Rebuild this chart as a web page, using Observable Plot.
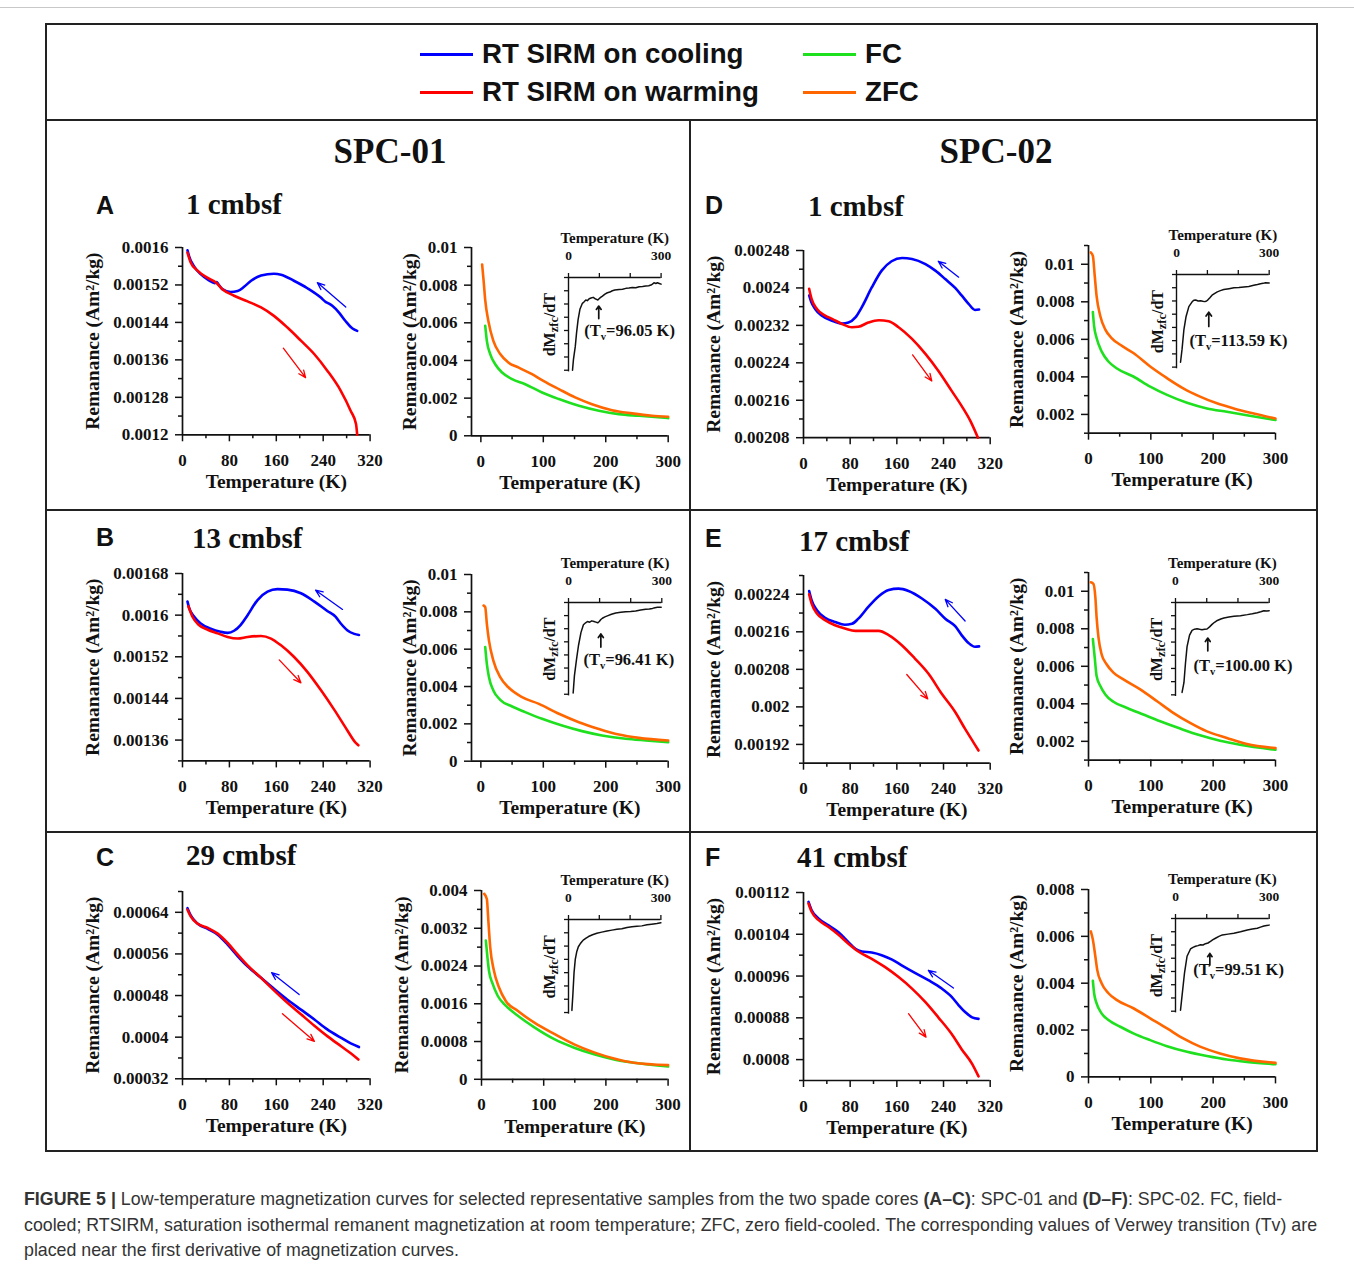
<!DOCTYPE html>
<html><head><meta charset="utf-8">
<script src="https://cdn.jsdelivr.net/npm/d3@7"></script>
<script src="https://cdn.jsdelivr.net/npm/@observablehq/plot@0.6"></script>
<style>
body{margin:0;background:#fff;}
#root{position:relative;width:1354px;height:1267px;overflow:hidden;background:#fff;}
.abs{position:absolute;}
svg{max-width:none !important;}
</style></head><body><div id="root"></div>
<script>
// ---------------- DATA ----------------
const legendItems = ["RT SIRM on cooling", "RT SIRM on warming", "FC", "ZFC"];
const coreNames = ["SPC-01", "SPC-02"];
const panelLetters = ["A", "B", "C", "D", "E", "F"];
const depthLabels = ["1 cmbsf", "13 cmbsf", "29 cmbsf", "1 cmbsf", "17 cmbsf", "41 cmbsf"];

const sirmXTicks = [0, 80, 160, 240, 320];
const sirmXMinor = [40, 120, 200, 280];
const zfcXTicks = [0, 100, 200, 300];
const zfcXMinor = [50, 150, 250];
const insetXTicks = [0, 300];
const insetXMinor = [100, 200];
const insetYTicks = [0, 1, 2, 3, 4, 5, 6, 7];

// Panel A
const yTicksA = [0.0012, 0.00128, 0.00136, 0.00144, 0.00152, 0.0016];
const yMinorA = [0.00124, 0.00132, 0.0014, 0.00148, 0.00156];
const coolA = [[8.5,0.001594],[11,0.001582],[20,0.001559],[31,0.001543],[45,0.00153],[55,0.001524],[58,0.001526],[62,0.00152],[68,0.001511],[82,0.001505],[94,0.001507],[105,0.001516],[117,0.001529],[134,0.00154],[156,0.001544],[168,0.001542],[190,0.001529],[213,0.001513],[236,0.001493],[244,0.001484],[250,0.00148],[256,0.001475],[267,0.001461],[278,0.001443],[290,0.001427],[298,0.001422]];
const warmA = [[8.5,0.001589],[14,0.001568],[26,0.00155],[43,0.001535],[57,0.001525],[68,0.001511],[88,0.001497],[111,0.001485],[134,0.001472],[156,0.001454],[179,0.001429],[202,0.001401],[225,0.001372],[247,0.001337],[270,0.001294],[287,0.001251],[296,0.001223],[298,0.0012]];
const arrowCoolA = [278.5,0.001473,230,0.001525];
const arrowWarmA = [172,0.001385,210,0.001322];
const zfcYTicksA = [0, 0.002, 0.004, 0.006, 0.008, 0.01];
const zfcYMinorA = [0.001, 0.003, 0.005, 0.007, 0.009];
const zfcA = [[2,0.0091],[4.5,0.0082],[7,0.0072],[12,0.0061],[20,0.00504],[31,0.00434],[44,0.00389],[60,0.00363],[82,0.00327],[100,0.00292],[125,0.00248],[151,0.00204],[178,0.00168],[210,0.00136],[242,0.00119],[274,0.00106],[300,0.00101]];
const fcA = [[7,0.00584],[9.6,0.00504],[15,0.00434],[23,0.0038],[34,0.00336],[50,0.00301],[71,0.00274],[98,0.0023],[125,0.00195],[157,0.00159],[189,0.00133],[221,0.00115],[253,0.00106],[300,0.00094]];
const insetA = [[13,0],[16,0.8],[22,1.8],[26,2.8],[31,3.8],[37,4.6],[45,5.05],[50,5.15],[56,5.3],[61,5.25],[67,5.4],[73,5.45],[80,5.5],[86,5.4],[91,5.35],[95,5.3],[99,5.4],[104,5.5],[110,5.6],[118,5.75],[126,5.85],[134,5.9],[142,6.0],[150,6.05],[164,6.1],[175,6.12],[186,6.18],[196,6.2],[207,6.25],[218,6.22],[229,6.3],[240,6.32],[250,6.35],[260,6.38],[267,6.43],[272,6.5],[277,6.6],[283,6.55],[288,6.6],[294,6.55],[300,6.5]];
const tvA = {x: 98, y1: 3.9, y2: 4.85, lx: 198, ly: 3.0, label: "(Tv=96.05 K)"};

// Panel B
const yTicksB = [0.00136, 0.00144, 0.00152, 0.0016, 0.00168];
const yMinorB = [0.00132, 0.0014, 0.00148, 0.00156, 0.00164];
const coolB = [[8.5,0.001626],[11,0.001615],[20,0.001597],[31,0.001584],[48,0.001574],[65,0.001568],[77,0.001566],[88,0.00157],[99,0.001581],[111,0.0016],[128,0.001629],[145,0.001645],[162,0.00165],[179,0.001649],[202,0.001642],[225,0.001626],[247,0.001608],[261,0.001597],[270,0.001584],[281,0.001571],[293,0.001564],[301,0.001562]];
const warmB = [[10,0.001617],[17,0.001597],[28,0.001581],[43,0.001572],[60,0.001565],[77,0.001558],[94,0.001555],[111,0.001558],[134,0.00156],[151,0.001555],[168,0.001542],[190,0.00152],[213,0.001491],[236,0.001456],[259,0.001418],[281,0.001379],[296,0.001354],[300,0.00135]];
const arrowCoolB = [273,0.001611,227,0.001648];
const arrowWarmB = [165,0.001514,202,0.00147];
const zfcYTicksB = [0, 0.002, 0.004, 0.006, 0.008, 0.01];
const zfcYMinorB = [0.001, 0.003, 0.005, 0.007, 0.009];
const zfcB = [[4.3,0.00834],[7,0.00825],[9.6,0.00736],[13,0.00646],[20,0.00539],[31,0.0045],[44,0.00396],[66,0.00343],[93,0.00307],[125,0.00254],[157,0.00209],[189,0.00173],[221,0.00143],[253,0.00125],[300,0.00111]];
const fcB = [[7,0.00611],[9.6,0.00521],[13,0.0045],[20,0.00379],[31,0.00329],[50,0.00293],[71,0.00263],[98,0.00227],[130,0.00191],[162,0.00161],[194,0.00138],[232,0.0012],[264,0.00111],[300,0.00102]];
const insetB = [[15,0.1],[19,1.4],[26,2.7],[32,3.7],[40,4.7],[48,5.3],[55,5.45],[61,5.55],[68,5.5],[75,5.6],[82,5.55],[88,5.5],[94,5.45],[99,5.55],[104,5.7],[109,5.8],[117,5.9],[125,5.98],[138,6.1],[152,6.2],[168,6.25],[184,6.3],[200,6.32],[216,6.35],[232,6.42],[248,6.48],[260,6.5],[270,6.55],[278,6.6],[286,6.63],[298,6.63]];
const tvB = {x: 104, y1: 3.6, y2: 4.6, lx: 194, ly: 2.6, label: "(Tv=96.41 K)"};

// Panel C
const yTicksC = [0.00032, 0.0004, 0.00048, 0.00056, 0.00064];
const yMinorC = [0.00036, 0.00044, 0.00052, 0.0006, 0.00068];
const coolC = [[8.5,0.000648],[14,0.000634],[26,0.000618],[43,0.000608],[60,0.000597],[77,0.000578],[94,0.000556],[111,0.000536],[134,0.000514],[156,0.000493],[179,0.000472],[202,0.000453],[225,0.000434],[247,0.000415],[270,0.000399],[287,0.000388],[301,0.000381]];
const warmC = [[8.5,0.000645],[14,0.000632],[26,0.000618],[43,0.00061],[60,0.000599],[77,0.000581],[94,0.000559],[111,0.000538],[134,0.000514],[156,0.00049],[179,0.000466],[202,0.000444],[225,0.000422],[247,0.000402],[270,0.000383],[287,0.000369],[300,0.000357]];
const arrowCoolC = [199,0.000482,152,0.000524];
const arrowWarmC = [170.5,0.000445,225,0.000392];
const zfcYTicksC = [0, 0.0008, 0.0016, 0.0024, 0.0032, 0.004];
const zfcYMinorC = [0.0004, 0.0012, 0.002, 0.0028, 0.0036];
const zfcC = [[4.3,0.00393],[8.6,0.00382],[11,0.00336],[14,0.0028],[20,0.0023],[28,0.00195],[39,0.00166],[58,0.00145],[85,0.0012],[117,0.00096],[149,0.00074],[181,0.00057],[213,0.00044],[245,0.00035],[300,0.0003]];
const fcC = [[7,0.00294],[9.6,0.00258],[12,0.0023],[18,0.00202],[26,0.00177],[39,0.00156],[58,0.00135],[85,0.0011],[117,0.00085],[149,0.00067],[181,0.00053],[213,0.00042],[245,0.00035],[300,0.00027]];
const insetC = [[11,0.16],[14,1.27],[18,3.0],[22,4.0],[27,4.6],[32,4.95],[38,5.17],[44,5.35],[49,5.47],[57,5.6],[65,5.72],[78,5.85],[92,5.96],[108,6.05],[125,6.14],[141,6.2],[157,6.26],[173,6.3],[190,6.4],[206,6.45],[222,6.5],[238,6.52],[255,6.6],[270,6.65],[287,6.7],[300,6.75]];

// Panel D
const yTicksD = [0.00208, 0.00216, 0.00224, 0.00232, 0.0024, 0.00248];
const yMinorD = [0.00212, 0.0022, 0.00228, 0.00236, 0.00244];
const coolD = [[9.7,0.002384],[13,0.002371],[20,0.002355],[31,0.002341],[49,0.00233],[66,0.002324],[77,0.002326],[89,0.002337],[100,0.002359],[117,0.002401],[134,0.002437],[151,0.002457],[169,0.002464],[186,0.002462],[209,0.002451],[226,0.002437],[243,0.002419],[260,0.0024],[271,0.002384],[283,0.002366],[294,0.002353],[301,0.002354]];
const warmD = [[9.7,0.002398],[14,0.002376],[23,0.002355],[37,0.002341],[49,0.002334],[66,0.002323],[83,0.002316],[94,0.002317],[111,0.002326],[129,0.002331],[146,0.002329],[163,0.002316],[186,0.002291],[209,0.002259],[231,0.002223],[254,0.00218],[271,0.002148],[286,0.002116],[299,0.00208]];
const arrowCoolD = [266,0.002423,231,0.002457];
const arrowWarmD = [187,0.002257,220,0.002201];
const zfcYTicksD = [0.002, 0.004, 0.006, 0.008, 0.01];
const zfcYMinorD = [0.001, 0.003, 0.005, 0.007, 0.009, 0.011];
const zfcD = [[3.7,0.01063],[7,0.01045],[10,0.00938],[13,0.0083],[19,0.00723],[27,0.00652],[37,0.00607],[51,0.00571],[72,0.00527],[99,0.00455],[126,0.00393],[152,0.00339],[179,0.00295],[206,0.00259],[233,0.00232],[265,0.00205],[300,0.00178]];
const fcD = [[7,0.00745],[9,0.0067],[13,0.00607],[21,0.00536],[32,0.00482],[45,0.00446],[72,0.00402],[99,0.00348],[126,0.00304],[158,0.00262],[190,0.00232],[222,0.00214],[254,0.00196],[300,0.0017]];
const insetD = [[13,0.37],[18,1.36],[24,2.84],[31,3.83],[40,4.57],[51,4.95],[56,5.05],[62,5.07],[70,5.0],[78,5.02],[85,4.98],[91,4.95],[96,4.98],[101,5.07],[108,5.25],[115,5.44],[124,5.58],[132,5.69],[142,5.78],[153,5.86],[170,5.93],[186,5.99],[202,6.02],[218,6.06],[234,6.1],[250,6.18],[262,6.24],[272,6.3],[280,6.33],[288,6.38],[300,6.36]];
const tvD = {x: 104.5, y1: 3.07, y2: 4.15, lx: 200.6, ly: 1.96, label: "(Tv=113.59 K)"};

// Panel E
const yTicksE = [0.00192, 0.002, 0.00208, 0.00216, 0.00224];
const yMinorE = [0.00188, 0.00196, 0.00204, 0.00212, 0.0022, 0.00228];
const coolE = [[9.7,0.002247],[14,0.002227],[23,0.002206],[37,0.00219],[54,0.002181],[71,0.002175],[83,0.002177],[94,0.002188],[111,0.002213],[129,0.002236],[146,0.002249],[163,0.002252],[180,0.002247],[203,0.002231],[226,0.002209],[243,0.002188],[260,0.002172],[271,0.002153],[283,0.002136],[294,0.002128],[301,0.002129]];
const warmE = [[9.7,0.00224],[14,0.00222],[23,0.002199],[37,0.002185],[54,0.002174],[71,0.002167],[89,0.002162],[111,0.002162],[129,0.002162],[146,0.002153],[169,0.002131],[191,0.002103],[214,0.002071],[237,0.002028],[260,0.001989],[277,0.001953],[291,0.001925],[300,0.001907]];
const arrowCoolE = [277,0.002183,243,0.002229];
const arrowWarmE = [177,0.002069,213,0.002017];
const zfcYTicksE = [0.002, 0.004, 0.006, 0.008, 0.01];
const zfcYMinorE = [0.001, 0.003, 0.005, 0.007, 0.009, 0.011];
const zfcE = [[3.7,0.01048],[8,0.01039],[11,0.00968],[13,0.00861],[16,0.00754],[21,0.00664],[29,0.00611],[40,0.00566],[56,0.0053],[83,0.00477],[110,0.00414],[136,0.00352],[163,0.00298],[190,0.00253],[222,0.00218],[254,0.00186],[300,0.00164]];
const fcE = [[7,0.00745],[10,0.00646],[13,0.00548],[19,0.00495],[27,0.0045],[40,0.00411],[62,0.00378],[88,0.00343],[115,0.00307],[147,0.00268],[179,0.00232],[211,0.00203],[243,0.00182],[300,0.00155]];
const insetE = [[21,0.18],[27,0.92],[32,2.41],[37,3.65],[45,4.52],[53,4.89],[61,4.98],[69,5.01],[77,4.97],[85,4.94],[93,4.98],[101,4.99],[109,5.15],[117,5.34],[125,5.5],[134,5.64],[145,5.75],[155,5.83],[171,5.9],[187,5.96],[208,6.0],[230,6.08],[246,6.15],[262,6.23],[273,6.3],[283,6.38],[292,6.36],[300,6.38]];
const tvE = {x: 103.4, y1: 3.34, y2: 4.3, lx: 216, ly: 2.2, label: "(Tv=100.00 K)"};

// Panel F
const yTicksF = [0.0008, 0.00088, 0.00096, 0.00104, 0.00112];
const yMinorF = [0.00076, 0.00084, 0.00092, 0.001, 0.00108];
const coolF = [[8.6,0.001102],[14,0.001086],[26,0.00107],[43,0.001057],[60,0.001044],[77,0.001025],[89,0.001012],[100,0.001007],[117,0.001005],[134,0.001],[151,0.000992],[169,0.00098],[191,0.000966],[214,0.000952],[237,0.000936],[254,0.00092],[266,0.000904],[277,0.000891],[289,0.000881],[300,0.000878]];
const warmF = [[8.6,0.001099],[14,0.001083],[26,0.001067],[43,0.001054],[60,0.001039],[77,0.001022],[94,0.001007],[117,0.000993],[140,0.000977],[163,0.000958],[186,0.000936],[209,0.00091],[231,0.000881],[254,0.000849],[271,0.00082],[289,0.000792],[300,0.000768]];
const arrowCoolF = [257,0.000937,214,0.000971];
const arrowWarmF = [180,0.000888,210,0.000843];
const zfcYTicksF = [0, 0.002, 0.004, 0.006, 0.008];
const zfcYMinorF = [0.001, 0.003, 0.005, 0.007];
const zfcF = [[3.7,0.00621],[7,0.00586],[11,0.00514],[14,0.00457],[21,0.004],[32,0.00357],[45,0.00329],[72,0.00293],[99,0.0025],[126,0.00207],[152,0.00164],[179,0.00129],[211,0.001],[243,0.00079],[300,0.0006]];
const fcF = [[7,0.0041],[9,0.00357],[13,0.00314],[21,0.00271],[32,0.00243],[51,0.00214],[72,0.00186],[99,0.00157],[126,0.00131],[158,0.00107],[190,0.00089],[222,0.00074],[254,0.00064],[300,0.00054]];
const insetF = [[16,0.07],[21,1.18],[29,2.92],[37,4.15],[48,4.7],[56,4.82],[64,4.9],[72,4.95],[80,5.02],[88,5.0],[96,5.1],[104,5.15],[112,5.27],[120,5.4],[128,5.51],[139,5.65],[150,5.76],[168,5.82],[187,5.89],[208,6.0],[230,6.13],[246,6.2],[262,6.26],[272,6.35],[283,6.43],[292,6.47],[300,6.5]];
const tvF = {x: 110, y1: 3.48, y2: 4.36, lx: 202, ly: 3.1, label: "(Tv=99.51 K)"};

// ---------------- STYLE / LAYOUT ----------------
const FONT = '"Liberation Serif","Times New Roman",serif';
const SANS = '"Liberation Sans",Arial,sans-serif';
const INK = "#111";
const BLUE = "#0000ff", RED = "#ff0000", GREEN = "#1fe01f", ORANGE = "#ff6600";
const fmt = d3.format("~g");
const root = document.getElementById("root");

const panels = [
  {key:"A", cool:coolA, warm:warmA, ac:arrowCoolA, aw:arrowWarmA, yDom:[0.0012,0.0016], yT:yTicksA, yM:yMinorA,
   zfc:zfcA, fc:fcA, zxDom:[-15,300], zyDom:[0,0.01], zyT:zfcYTicksA, zyM:zfcYMinorA, inset:insetA, tv:tvA,
   box:[181.7,246.7,369.3,434], zbox:[471,246.7,667.7,435], ibox:[567.7,277.3,660.3,371.7], zlab:-62},
  {key:"B", cool:coolB, warm:warmB, ac:arrowCoolB, aw:arrowWarmB, yDom:[0.00132,0.00168], yT:yTicksB, yM:yMinorB,
   zfc:zfcB, fc:fcB, zxDom:[-15,300], zyDom:[0,0.01], zyT:zfcYTicksB, zyM:zfcYMinorB, inset:insetB, tv:tvB,
   box:[181.7,573.3,369.3,760.7], zbox:[471,574,667.7,760.7], ibox:[567.7,602.3,661,695.7], zlab:-62},
  {key:"C", cool:coolC, warm:warmC, ac:arrowCoolC, aw:arrowWarmC, yDom:[0.00032,0.00068], yT:yTicksC, yM:yMinorC,
   zfc:zfcC, fc:fcC, zxDom:[0,300], zyDom:[0,0.004], zyT:zfcYTicksC, zyM:zfcYMinorC, inset:insetC, tv:null,
   box:[181.7,891,369.3,1078.3], zbox:[480.7,889.5,667.3,1078.3], ibox:[568.3,919.3,660.7,1014], zlab:-80},
  {key:"D", cool:coolD, warm:warmD, ac:arrowCoolD, aw:arrowWarmD, yDom:[0.00208,0.00248], yT:yTicksD, yM:yMinorD,
   zfc:zfcD, fc:fcD, zxDom:[0,300], zyDom:[0.001,0.011], zyT:zfcYTicksD, zyM:zfcYMinorD, inset:insetD, tv:tvD,
   box:[803.3,249.5,990,436.7], zbox:[1088.3,245,1275.3,432.7], ibox:[1176,274,1268.7,368.3], zlab:-72},
  {key:"E", cool:coolE, warm:warmE, ac:arrowCoolE, aw:arrowWarmE, yDom:[0.00188,0.00228], yT:yTicksE, yM:yMinorE,
   zfc:zfcE, fc:fcE, zxDom:[0,300], zyDom:[0.001,0.011], zyT:zfcYTicksE, zyM:zfcYMinorE, inset:insetE, tv:tvE,
   box:[803.3,575,990,762.7], zbox:[1088.3,571.7,1275.3,759.3], ibox:[1175,601.7,1268.7,695.7], zlab:-72},
  {key:"F", cool:coolF, warm:warmF, ac:arrowCoolF, aw:arrowWarmF, yDom:[0.00076,0.00112], yT:yTicksF, yM:yMinorF,
   zfc:zfcF, fc:fcF, zxDom:[0,300], zyDom:[0,0.008], zyT:zfcYTicksF, zyM:zfcYMinorF, inset:insetF, tv:tvF,
   box:[803.3,892.3,990,1080.3], zbox:[1088.3,889.3,1275.3,1076.7], ibox:[1175,918.3,1268.7,1012.7], zlab:-72}
];

const obj = a => a.map(([t, v]) => ({t, v}));

function mount(svg, left, top) {
  svg.style.position = "absolute";
  svg.style.left = left + "px";
  svg.style.top = top + "px";
  svg.style.overflow = "visible";
  root.appendChild(svg);
}

function axesMarks(xDom, yDom, xT, xM, yT, yM) {
  const common = {stroke: INK, strokeWidth: 1.5};
  return [
    Plot.axisX({ticks: xT, tickSize: 7, tickPadding: 12, tickFormat: fmt, label: null, ...common, fontSize: 17, fontWeight: "bold"}),
    Plot.axisX({ticks: xM, tickSize: 4, tickFormat: () => "", label: null, ...common}),
    Plot.axisY({ticks: yT, tickSize: 7, tickPadding: 7, tickFormat: fmt, label: null, ...common, fontSize: 17, fontWeight: "bold"}),
    Plot.axisY({ticks: yM, tickSize: 4, tickFormat: () => "", label: null, ...common}),
    Plot.ruleY([yDom[0]], {stroke: INK, strokeWidth: 1.7}),
    Plot.ruleX([xDom[0]], {stroke: INK, strokeWidth: 1.7})
  ];
}

function baseStyle() {
  return {background: "transparent", fontFamily: FONT, fontSize: "17px", fontWeight: "bold", color: INK, overflow: "visible"};
}

const centered = {textAnchor: "middle", lineAnchor: "middle", fontWeight: "bold", fill: INK};

function sirmChart(p) {
  const [Lx, Ty, Rx, By] = p.box;
  const mL = 110, mR = 15, mT = 15, mB = 60;
  const svg = Plot.plot({
    width: Rx - Lx + mL + mR, height: By - Ty + mT + mB,
    marginLeft: mL, marginRight: mR, marginTop: mT, marginBottom: mB,
    style: baseStyle(),
    x: {domain: [0, 320], axis: null},
    y: {domain: p.yDom, axis: null},
    marks: [
      ...axesMarks([0, 320], p.yDom, sirmXTicks, sirmXMinor, p.yT, p.yM),
      Plot.line(obj(p.cool), {x: "t", y: "v", stroke: BLUE, strokeWidth: 2.6, curve: "monotone-x"}),
      Plot.line(obj(p.warm), {x: "t", y: "v", stroke: RED, strokeWidth: 2.6, curve: "monotone-x"}),
      Plot.arrow([p.ac], {x1: d => d[0], y1: d => d[1], x2: d => d[2], y2: d => d[3], stroke: BLUE, strokeWidth: 1.3, headLength: 9, headAngle: 45}),
      Plot.arrow([p.aw], {x1: d => d[0], y1: d => d[1], x2: d => d[2], y2: d => d[3], stroke: RED, strokeWidth: 1.3, headLength: 9, headAngle: 45}),
      Plot.text(["Remanance (Am²/kg)"], {text: d => d, frameAnchor: "left", dx: -90, rotate: -90, fontSize: 19.5, ...centered}),
      Plot.text(["Temperature (K)"], {text: d => d, frameAnchor: "bottom", dy: 47, fontSize: 19.5, ...centered})
    ]
  });
  mount(svg, Lx - mL, Ty - mT);
}

function zfcChart(p) {
  const [Lx, Ty, Rx, By] = p.zbox;
  const mL = 100, mR = 15, mT = 15, mB = 60;
  const svg = Plot.plot({
    width: Rx - Lx + mL + mR, height: By - Ty + mT + mB,
    marginLeft: mL, marginRight: mR, marginTop: mT, marginBottom: mB,
    style: baseStyle(),
    x: {domain: p.zxDom, axis: null},
    y: {domain: p.zyDom, axis: null},
    marks: [
      ...axesMarks(p.zxDom, p.zyDom, zfcXTicks, zfcXMinor, p.zyT, p.zyM),
      Plot.line(obj(p.fc), {x: "t", y: "v", stroke: GREEN, strokeWidth: 2.6, curve: "monotone-x"}),
      Plot.line(obj(p.zfc), {x: "t", y: "v", stroke: ORANGE, strokeWidth: 2.6, curve: "monotone-x"}),
      Plot.text(["Remanance (Am²/kg)"], {text: d => d, frameAnchor: "left", dx: p.zlab, rotate: -90, fontSize: 19.5, ...centered}),
      Plot.text(["Temperature (K)"], {text: d => d, frameAnchor: "bottom", dy: 47, fontSize: 19.5, ...centered})
    ]
  });
  mount(svg, Lx - mL, Ty - mT);
}

function insetChart(p) {
  const [Lx, Ty, Rx, By] = p.ibox;
  const mL = 35, mR = 45, mT = 50, mB = 8;
  const common = {stroke: INK, strokeWidth: 1.3};
  const marks = [
    Plot.axisX({anchor: "top", ticks: insetXTicks, tickSize: 5, tickPadding: 12, tickFormat: fmt, label: null, ...common, fontSize: 13.5, fontWeight: "bold"}),
    Plot.axisX({anchor: "top", ticks: insetXMinor, tickSize: 5, tickFormat: () => "", label: null, ...common}),
    Plot.axisY({ticks: insetYTicks, tickSize: 4, tickFormat: () => "", label: null, ...common}),
    Plot.ruleY([7], {stroke: INK, strokeWidth: 1.4}),
    Plot.ruleX([0], {stroke: INK, strokeWidth: 1.4}),
    Plot.line(obj(p.inset), {x: "t", y: "v", stroke: INK, strokeWidth: 1.5}),
    Plot.text(["Temperature (K)"], {text: d => d, frameAnchor: "top", dy: -39, fontSize: 15, ...centered}),
    Plot.text(["dMzfc/dT"], {text: d => d, frameAnchor: "left", dx: -19, rotate: -90, fontSize: 16, ...centered})
  ];
  if (p.tv) {
    marks.push(Plot.arrow([p.tv], {x1: "x", y1: "y1", x2: "x", y2: "y2", stroke: INK, strokeWidth: 1.7, headLength: 6, headAngle: 70}));
    marks.push(Plot.text([p.tv], {x: "lx", y: "ly", text: "label", fontSize: 16.5, ...centered}));
  }
  const svg = Plot.plot({
    width: Rx - Lx + mL + mR, height: By - Ty + mT + mB,
    marginLeft: mL, marginRight: mR, marginTop: mT, marginBottom: mB,
    style: baseStyle(),
    x: {domain: [0, 300], axis: null},
    y: {domain: [-0.125, 7], axis: null},
    marks
  });
  // subscripts
  const NS = "http://www.w3.org/2000/svg";
  svg.querySelectorAll("text").forEach(t => {
    const s = t.textContent;
    if (s.startsWith("(Tv=")) {
      t.textContent = "";
      const a = document.createElementNS(NS, "tspan"); a.textContent = "(T";
      const b = document.createElementNS(NS, "tspan"); b.textContent = "v"; b.setAttribute("dy", "4"); b.setAttribute("font-size", "10.5");
      const c = document.createElementNS(NS, "tspan"); c.textContent = s.slice(3); c.setAttribute("dy", "-4");
      t.append(a, b, c);
    } else if (s === "dMzfc/dT") {
      t.textContent = "";
      const a = document.createElementNS(NS, "tspan"); a.textContent = "dM";
      const b = document.createElementNS(NS, "tspan"); b.textContent = "zfc"; b.setAttribute("dy", "3.5"); b.setAttribute("font-size", "12.5");
      const c = document.createElementNS(NS, "tspan"); c.textContent = "/dT"; c.setAttribute("dy", "-3.5");
      t.append(a, b, c);
    }
  });
  mount(svg, Lx - mL, Ty - mT);
}

// ---------------- FRAME / HTML TEXT ----------------
function box(x, y, w, h, css) {
  const d = document.createElement("div");
  d.className = "abs";
  Object.assign(d.style, {left: x + "px", top: y + "px", width: w + "px", height: h + "px"}, css);
  root.appendChild(d);
}
function txt(x, y, html, css, anchor = "middle") {
  const d = document.createElement("div");
  d.className = "abs";
  d.innerHTML = html;
  Object.assign(d.style, {left: x + "px", top: y + "px", whiteSpace: "nowrap", lineHeight: "1",
    transform: anchor === "middle" ? "translate(-50%,-50%)" : "translate(0,-50%)"}, css);
  root.appendChild(d);
}

// page top rule
box(0, 7, 1354, 1, {background: "#c8c8c8"});
// outer frame and separators
box(45, 23, 1273, 1129, {border: "2px solid #222", boxSizing: "border-box"});
box(45, 119, 1273, 2, {background: "#222"});
box(689, 120, 2, 1032, {background: "#222"});
box(45, 509, 1273, 2, {background: "#222"});
box(45, 831, 1273, 2, {background: "#222"});

// legend
const legendColors = [BLUE, RED, GREEN, ORANGE];
const legendPos = [[420, 54], [420, 92], [803, 54], [803, 92]];
legendItems.forEach((name, i) => {
  const [x, y] = legendPos[i];
  box(x, y - 1.5, 53, 3, {background: legendColors[i]});
  txt(x + 62, y, name, {fontFamily: SANS, fontWeight: "bold", fontSize: "27.7px", color: INK}, "left");
});

// core headers
txt(390, 151, coreNames[0], {fontFamily: FONT, fontWeight: "bold", fontSize: "35px", color: INK});
txt(996, 151, coreNames[1], {fontFamily: FONT, fontWeight: "bold", fontSize: "35px", color: INK});

// panel letters and depth titles
const letterPos = [[96, 205], [96, 537], [96, 857], [705, 205], [705, 538], [705, 857]];
const depthPos = [[186, 204], [192, 538], [186, 855], [808, 206], [799, 541], [797, 857]];
panelLetters.forEach((L, i) => {
  txt(letterPos[i][0], letterPos[i][1], L, {fontFamily: SANS, fontWeight: "bold", fontSize: "25px", color: INK}, "left");
  txt(depthPos[i][0], depthPos[i][1], depthLabels[i], {fontFamily: FONT, fontWeight: "bold", fontSize: "29px", color: INK}, "left");
});

// charts
panels.forEach(p => { sirmChart(p); zfcChart(p); insetChart(p); });

// caption
const cap = document.createElement("div");
cap.className = "abs";
Object.assign(cap.style, {left: "24px", top: "1187px", fontFamily: SANS, fontSize: "17.8px", lineHeight: "25.5px", color: "#333", whiteSpace: "nowrap"});
cap.innerHTML = "<b>FIGURE 5 |</b> Low-temperature magnetization curves for selected representative samples from the two spade cores <b>(A–C)</b>: SPC-01 and <b>(D–F)</b>: SPC-02. FC, field-<br>cooled; RTSIRM, saturation isothermal remanent magnetization at room temperature; ZFC, zero field-cooled. The corresponding values of Verwey transition (Tv) are<br>placed near the first derivative of magnetization curves.";
root.appendChild(cap);
</script>
</body></html>
